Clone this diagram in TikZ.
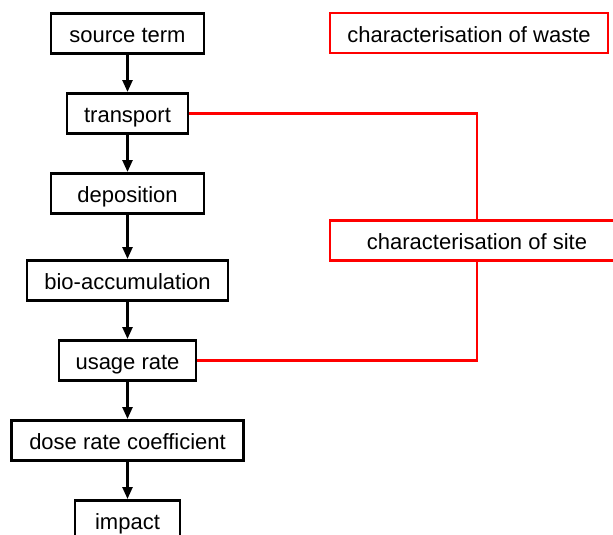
\documentclass[tikz,border=0pt]{standalone}
\usepackage{fontspec}
\setmainfont{Liberation Sans}
\usetikzlibrary{positioning,arrows.meta}

\begin{document}
\begin{tikzpicture}[x=1pt, y=-1pt, ->, >={Triangle[length=12pt,width=10pt]}, line width=2.5pt, node distance=80pt,
  main node/.style={rectangle, draw, line width=2.6pt, minimum height=40pt, inner sep=0pt, text height=19pt, text depth=1pt, font=\fontsize{22}{26}\selectfont},
  red node/.style={main node, draw=red, line width=2.4pt}]
  \useasboundingbox (0,0) rectangle (613,535);

  \node[main node, minimum width=153pt] (1) at (127.5,33.3) {source term};
  \node[main node, minimum width=121pt] (2) [below of=1] {transport};
  \node[main node, minimum width=153pt] (3) [below of=2] {deposition};
  \node[main node, minimum width=201pt] (4) [below of=3, yshift=-7pt] {bio-accumulation};
  \node[main node, minimum width=137pt] (5) [below of=4] {usage rate};
  \node[main node, minimum width=232pt] (6) [below of=5] {dose rate coefficient};
  \node[main node, minimum width=105pt] (7) [below of=6] {impact};

  \node[red node, minimum width=278pt] (waste) at (469,33.3) {characterisation of waste};
  \node[red node, minimum width=294pt] (site) at (477,240.5) {characterisation of site};

  \path (1) edge (2)
        (2) edge (3)
        (3) edge (4)
        (4) edge (5)
        (5) edge (6)
        (6) edge (7);

  \draw[-, red, line width=2.4pt] (2) -| (site);
  \draw[-, red, line width=2.4pt] (5) -| (site);
\end{tikzpicture}
\end{document}
